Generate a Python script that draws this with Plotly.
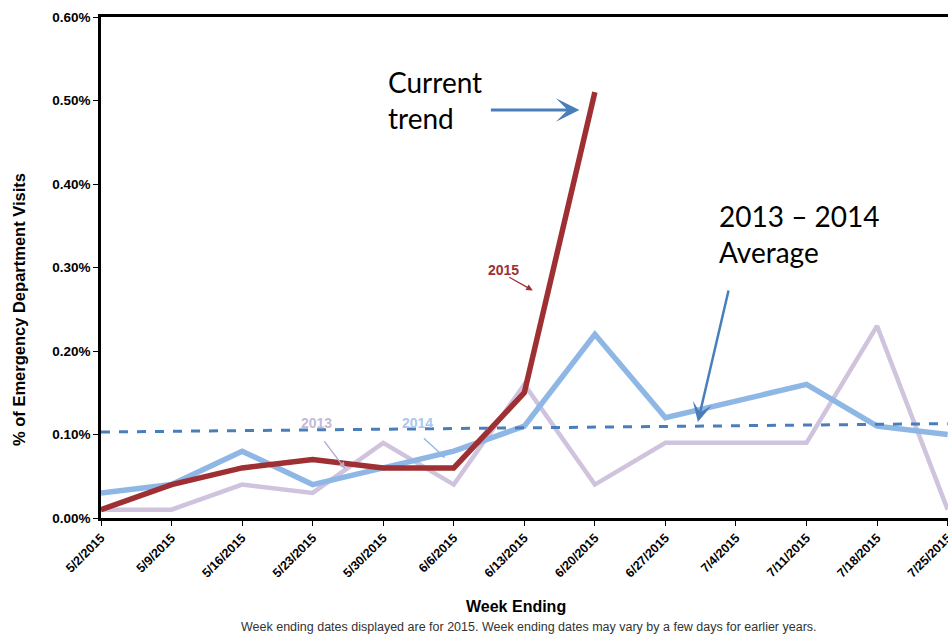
import plotly.graph_objects as go

weeks = ["5/2/2015", "5/9/2015", "5/16/2015", "5/23/2015", "5/30/2015", "6/6/2015",
         "6/13/2015", "6/20/2015", "6/27/2015", "7/4/2015", "7/11/2015", "7/18/2015", "7/25/2015"]
y2013 = [0.01, 0.01, 0.04, 0.03, 0.09, 0.04, 0.16, 0.04, 0.09, 0.09, 0.09, 0.23, 0.01]
y2014 = [0.03, 0.04, 0.08, 0.04, 0.06, 0.08, 0.11, 0.22, 0.12, 0.14, 0.16, 0.11, 0.10]
y2015 = [0.01, 0.04, 0.06, 0.07, 0.06, 0.06, 0.15, 0.51]
avg_ends = [0.103, 0.113]
y_ticks = [0.0, 0.1, 0.2, 0.3, 0.4, 0.5, 0.6]

idx = list(range(len(weeks)))

fig = go.Figure()
fig.add_trace(go.Scatter(x=idx, y=y2013, mode="lines", line=dict(color="#cfc3dd", width=4.5)))
fig.add_trace(go.Scatter(x=idx, y=y2014, mode="lines", line=dict(color="#8fb7e6", width=5.5)))
fig.add_trace(go.Scatter(x=idx[:len(y2015)], y=y2015, mode="lines", line=dict(color="#9e2f33", width=5.5)))
fig.add_trace(go.Scatter(x=[idx[0], idx[-1]], y=avg_ends, mode="lines",
                         line=dict(color="#4a7ebb", width=3, dash="dash")))

arial = "Liberation Sans, Arial, sans-serif"
big = "Lato, Open Sans, sans-serif"

PW, PH = 847, 501  # plot area size in px (for paper-relative placement of titles)

ann = []
# Current trend
ann.append(dict(x=4.04, y=0.545, xref="x", yref="y", xanchor="left", yanchor="top",
                text="Current<br>trend", showarrow=False, align="left",
                font=dict(family=big, size=28, color="black")))
ann.append(dict(x=6.78, y=0.4886, xref="x", yref="y", ax=-90, ay=0, axref="pixel", ayref="pixel",
                showarrow=True, arrowhead=3, arrowsize=1.3, arrowwidth=3, arrowcolor="#4a7ebb", text=""))
# 2013-2014 Average
ann.append(dict(x=8.73, y=0.385, xref="x", yref="y", xanchor="left", yanchor="top",
                text="2013 \u2013 2014<br>Average", showarrow=False, align="left",
                font=dict(family=big, size=28, color="black")))
ann.append(dict(x=8.46, y=0.115, xref="x", yref="y", ax=31, ay=-133, axref="pixel", ayref="pixel",
                showarrow=True, arrowhead=3, arrowsize=1.3, arrowwidth=2.5, arrowcolor="#4a7ebb", text=""))
# series labels
ann.append(dict(x=5.70, y=0.297, xref="x", yref="y", text="<b>2015</b>", showarrow=False,
                font=dict(family=arial, size=14, color="#9e2f33")))
ann.append(dict(x=6.12, y=0.2725, xref="x", yref="y", ax=-25, ay=-14, axref="pixel", ayref="pixel",
                showarrow=True, arrowhead=2, arrowsize=1, arrowwidth=1.3, arrowcolor="#9e2f33", text=""))
ann.append(dict(x=3.06, y=0.114, xref="x", yref="y", text="<b>2013</b>", showarrow=False,
                font=dict(family=arial, size=14, color="#c5b8d8")))
ann.append(dict(x=3.46, y=0.059, xref="x", yref="y", ax=-22, ay=-29, axref="pixel", ayref="pixel",
                showarrow=True, arrowhead=2, arrowsize=1, arrowwidth=1.3, arrowcolor="#b9a9cf", text=""))
ann.append(dict(x=4.48, y=0.114, xref="x", yref="y", text="<b>2014</b>", showarrow=False,
                font=dict(family=arial, size=14, color="#a9c8ee")))
ann.append(dict(x=4.88, y=0.072, xref="x", yref="y", ax=-23, ay=-21, axref="pixel", ayref="pixel",
                showarrow=True, arrowhead=2, arrowsize=1, arrowwidth=1.3, arrowcolor="#8fb7e6", text=""))
# axis titles
ann.append(dict(x=-(101 - 19) / PW, y=(518 - 310) / PH, xref="paper", yref="paper",
                xanchor="center", yanchor="middle", textangle=-90, showarrow=False,
                text="<b>% of Emergency Department Visits</b>",
                font=dict(family=arial, size=16.5, color="black")))
ann.append(dict(x=(516 - 101) / PW, y=-(606 - 518) / PH, xref="paper", yref="paper",
                xanchor="center", yanchor="middle", showarrow=False,
                text="<b>Week Ending</b>", font=dict(family=arial, size=16, color="black")))
# footnote
ann.append(dict(x=(529 - 101) / PW, y=-(627 - 518) / PH, xref="paper", yref="paper",
                xanchor="center", yanchor="middle",
                text="Week ending dates displayed are for 2015. Week ending dates may vary by a few days for earlier years.",
                showarrow=False, font=dict(family=arial, size=12.5, color="#333333")))

fig.update_layout(
    width=948, height=636,
    margin=dict(l=101, r=0, t=17, b=118),
    plot_bgcolor="white", paper_bgcolor="white",
    showlegend=False,
    annotations=ann,
    xaxis=dict(range=[0, 12.005], tickmode="array", tickvals=idx, ticktext=weeks,
               tickangle=-45, ticks="outside", ticklen=5, tickcolor="black", tickwidth=1,
               ticklabeloverflow="allow", automargin=False,
               showline=True, linecolor="black", linewidth=2.5, mirror=True,
               showgrid=False, zeroline=False,
               tickfont=dict(family=arial, size=12.5, color="black", weight="bold")),
    yaxis=dict(range=[0, 0.6], tickmode="array", tickvals=y_ticks,
               ticktext=[f"{v:.2f}%" for v in y_ticks], automargin=False,
               ticks="outside", ticklen=5, tickcolor="black", tickwidth=1,
               showline=True, linecolor="black", linewidth=2.5, mirror=False,
               showgrid=False, zeroline=False,
               tickfont=dict(family=arial, size=13.5, color="black", weight="bold")),
)

fig.write_html("out.html")
